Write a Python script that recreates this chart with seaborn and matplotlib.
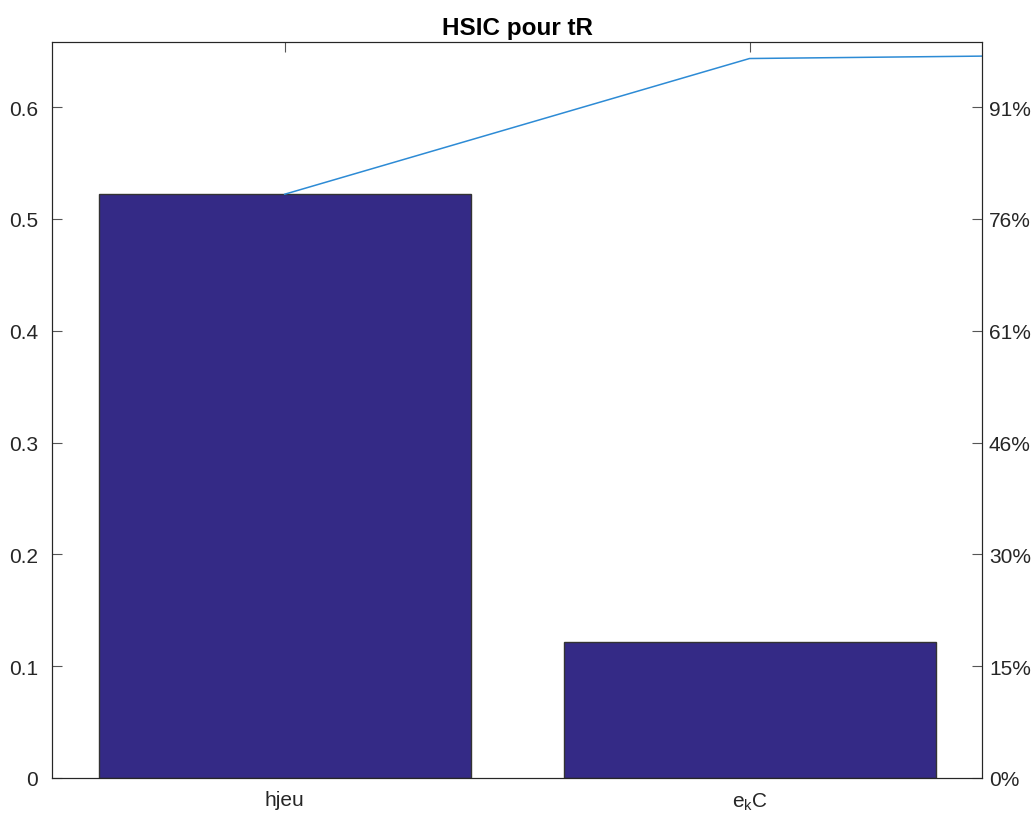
import numpy as np
import pandas as pd
import matplotlib
matplotlib.use("Agg")
import matplotlib.pyplot as plt
import seaborn as sns

# ============================================================
# 데이터
# ============================================================

variables = ["hjeu", "e$_k$C"]
hsic = [0.522, 0.1214]
# variables not drawn as bars (pareto keeps the cumulative line going)
hsic_rest = [0.0043, 0.0040, 0.0035, 0.0030]

all_values = hsic + hsic_rest
cumul = np.cumsum(all_values)
total = cumul[-1]

left_ticks = [0, 0.1, 0.2, 0.3, 0.4, 0.5, 0.6]

# ============================================================
# 스타일
# ============================================================

sns.set_style("white")
plt.rcParams["font.family"] = ["Liberation Sans", "DejaVu Sans"]
plt.rcParams["mathtext.fontset"] = "custom"
plt.rcParams["mathtext.rm"] = "Liberation Sans"
plt.rcParams["mathtext.it"] = "Liberation Sans"

txt = "#262626"
bar_color = "#342A86"
line_color = "#2D8BD5"

fig = plt.figure(figsize=(10.36, 8.2), dpi=100)
ax = fig.add_axes([0.0502, 0.05, 0.8977, 0.8976])

df = pd.DataFrame({"var": variables, "hsic": hsic})
sns.barplot(data=df, x="var", y="hsic", color=bar_color, saturation=1,
            width=0.8, edgecolor="#333333", linewidth=1, ax=ax)

ax.plot(np.arange(len(all_values)), cumul, color=line_color, lw=1.1, clip_on=True)

ax.set_xlim(-0.5, len(variables) - 0.5)
ax.set_ylim(0, total)
ax.set_yticks(left_ticks)
ax.set_yticklabels(["0" if t == 0 else f"{t:.1f}" for t in left_ticks])
ax.set_xlabel("")
ax.set_ylabel("")
ax.set_title("HSIC pour tR", fontsize=17.5, fontweight="bold", color="black", pad=6)

for s in ax.spines.values():
    s.set_color(txt)
    s.set_linewidth(0.8)

ax.tick_params(axis="both", direction="in", length=7, width=0.8, color="#555555",
               labelcolor=txt, labelsize=15, top=True, bottom=True, left=True)
ax.tick_params(axis="x", pad=9)
ax.tick_params(axis="y", pad=10)

ax2 = ax.twinx()
ax2.set_ylim(0, total)
ax2.set_yticks(left_ticks)
ax2.set_yticklabels([f"{round(t / total * 100):.0f}%" for t in left_ticks])
ax2.tick_params(axis="y", direction="in", length=7, width=0.8, color="#555555",
                labelcolor=txt, labelsize=15, pad=5)
for s in ax2.spines.values():
    s.set_color(txt)
    s.set_linewidth(0.8)

plt.savefig("out.png", dpi=100)
